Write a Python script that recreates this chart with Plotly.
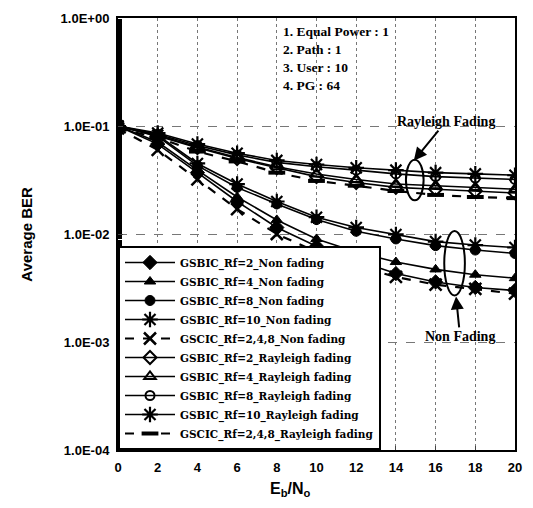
import plotly.graph_objects as go

ebno = [0, 2, 4, 6, 8, 10, 12, 14, 16, 18, 20]

nf_rf2 = [0.100, 0.068, 0.037, 0.020, 0.0115, 0.0077, 0.0057, 0.0043, 0.0036, 0.0032, 0.0030]
nf_rf4 = [0.100, 0.071, 0.039, 0.022, 0.0135, 0.0090, 0.0068, 0.0055, 0.0047, 0.0042, 0.0039]
nf_rf8 = [0.100, 0.080, 0.043, 0.027, 0.0190, 0.0136, 0.0106, 0.0090, 0.0078, 0.0071, 0.0066]
nf_rf10 = [0.100, 0.082, 0.045, 0.029, 0.0200, 0.0143, 0.0115, 0.0099, 0.0085, 0.0079, 0.0075]
nf_cic = [0.095, 0.060, 0.032, 0.017, 0.0100, 0.0068, 0.0051, 0.0040, 0.0034, 0.0031, 0.0028]

ray_rf2 = [0.100, 0.081, 0.063, 0.050, 0.041, 0.034, 0.030, 0.027, 0.026, 0.025, 0.024]
ray_rf4 = [0.100, 0.082, 0.064, 0.051, 0.042, 0.036, 0.032, 0.029, 0.028, 0.027, 0.026]
ray_rf8 = [0.100, 0.084, 0.066, 0.054, 0.046, 0.042, 0.039, 0.036, 0.034, 0.033, 0.032]
ray_rf10 = [0.100, 0.086, 0.068, 0.056, 0.048, 0.044, 0.041, 0.039, 0.037, 0.036, 0.035]
ray_cic = [0.095, 0.078, 0.058, 0.047, 0.037, 0.031, 0.028, 0.025, 0.023, 0.022, 0.0215]

names = [
    "GSBIC_Rf=2_Non fading", "GSBIC_Rf=4_Non fading", "GSBIC_Rf=8_Non fading",
    "GSBIC_Rf=10_Non fading", "GSCIC_Rf=2,4,8_Non fading",
    "GSBIC_Rf=2_Rayleigh fading", "GSBIC_Rf=4_Rayleigh fading", "GSBIC_Rf=8_Rayleigh fading",
    "GSBIC_Rf=10_Rayleigh fading", "GSCIC_Rf=2,4,8_Rayleigh fading",
]
series = [nf_rf2, nf_rf4, nf_rf8, nf_rf10, nf_cic, ray_rf2, ray_rf4, ray_rf8, ray_rf10, ray_cic]
symbols = ["diamond", "triangle-up", "circle", "asterisk-open", "x-thin-open",
           "diamond-open", "triangle-up-open", "circle-open", "asterisk-open", "line-ew-open"]
sizes = [11, 10, 10, 13, 12, 10, 10, 9, 13, 12]
mlw = [1, 1, 1, 2.2, 2.5, 2, 2, 2, 2.2, 4]
dashes = ["solid"] * 4 + ["dash"] + ["solid"] * 4 + ["dash"]

yticks = [1e-4, 1e-3, 1e-2, 1e-1, 1]
yticktext = ["1.0E-04", "1.0E-03", "1.0E-02", "1.0E-01", "1.0E+00"]
xticks = list(range(0, 21, 2))

fig = go.Figure()
for nm, ys, sy, sz, lw, ds in zip(names, series, symbols, sizes, mlw, dashes):
    fig.add_trace(go.Scatter(
        x=ebno, y=ys, name=nm, mode="lines+markers",
        line=dict(color="black", width=1.6 if ds == "solid" else 2.2, dash=ds),
        marker=dict(symbol=sy, size=sz, color="black", line=dict(color="black", width=lw)),
    ))

L, R, T, B = 118, 522, 14, 450
W, H = 533, 508

def px(xp):
    return (xp - L) / (R - L)

def py(yp):
    return (B - yp) / (B - T)

serif = "Liberation Serif"
sans = "Liberation Sans"

fig.update_layout(
    width=W, height=H,
    margin=dict(l=L, r=W - R, t=T, b=H - B),
    paper_bgcolor="white", plot_bgcolor="white",
    showlegend=True,
    legend=dict(
        x=0, y=0, xanchor="left", yanchor="bottom",
        bgcolor="white", bordercolor="black", borderwidth=2,
        font=dict(family="DejaVu Serif", size=10.5, color="black", weight="bold"),
        itemwidth=50, tracegroupgap=0,
    ),
    xaxis=dict(
        range=[0, 20], tickvals=xticks, ticks="inside", ticklen=4,
        showgrid=True, gridcolor="#777", griddash="dot", gridwidth=1,
        showline=True, linecolor="black", linewidth=2, mirror=True,
        zeroline=False,
        tickfont=dict(family=sans, size=13, color="black", weight="bold"),
        ticklabelstandoff=4,
    ),
    yaxis=dict(
        type="log", range=[-4, 0], tickvals=yticks, ticktext=yticktext,
        ticks="inside", ticklen=5,
        showgrid=True, gridcolor="#777", griddash="dash", gridwidth=1,
        showline=True, linecolor="black", linewidth=2, mirror=True,
        minor=dict(ticks="inside", ticklen=4, tickcolor="black", showgrid=False),
        tickfont=dict(family=sans, size=13, color="black", weight="bold"),
        ticklabelstandoff=4,
    ),
)

anns = []
info = ["1. Equal Power : 1", "2. Path : 1", "3. User : 10", "4. PG : 64"]
for i, t in enumerate(info):
    anns.append(dict(text=t, xref="paper", yref="paper", x=px(284), y=py(28 + 18 * i),
                     xanchor="left", yanchor="middle", showarrow=False,
                     font=dict(family=serif, size=13.5, color="black", weight="bold")))
anns.append(dict(text="Rayleigh Fading", xref="paper", yref="paper", x=px(419), y=py(158),
                 ax=32, ay=-39, showarrow=True, arrowhead=2, arrowsize=1.3, arrowwidth=2,
                 arrowcolor="black",
                 font=dict(family=serif, size=14, color="black", weight="bold")))
anns.append(dict(text="Non Fading", xref="paper", yref="paper", x=px(462), y=py(295),
                 ax=4, ay=40, showarrow=True, arrowhead=2, arrowsize=1.3, arrowwidth=2,
                 arrowcolor="black",
                 font=dict(family=serif, size=14, color="black", weight="bold")))
anns.append(dict(text="E<sub>b</sub>/N<sub>o</sub>", xref="paper", yref="paper", x=px(294), y=py(490),
                 xanchor="center", yanchor="middle", showarrow=False,
                 font=dict(family=sans, size=16, color="black", weight="bold")))
anns.append(dict(text="Average BER", xref="paper", yref="paper", x=px(24), y=py(232),
                 xanchor="center", yanchor="middle", showarrow=False, textangle=-90,
                 font=dict(family=sans, size=15, color="black", weight="bold")))
fig.update_layout(annotations=anns)

fig.add_shape(type="circle", xref="paper", yref="paper",
              x0=px(411), x1=px(429), y0=py(157), y1=py(198),
              line=dict(color="black", width=2))
fig.add_shape(type="circle", xref="paper", yref="paper",
              x0=px(450), x1=px(471), y0=py(229), y1=py(294),
              line=dict(color="black", width=2))

fig.write_html("out.html")
